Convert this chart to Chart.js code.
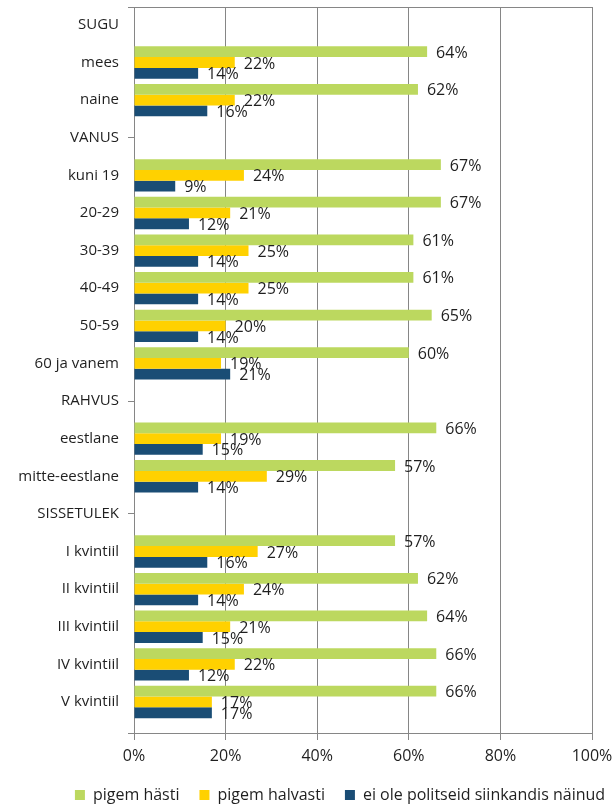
<!DOCTYPE html>
<html>
<head>
<meta charset="utf-8">
<script src="https://cdn.jsdelivr.net/npm/chart.js@4"></script>
<style>
  html, body { margin: 0; padding: 0; background: #fff; }
  #wrap { width: 612px; height: 805px; }
</style>
</head>
<body>
<div id="wrap"><canvas id="chart1"></canvas></div>
<script>
const categories = ['SUGU', 'mees', 'naine', 'VANUS', 'kuni 19', '20-29', '30-39', '40-49', '50-59', '60 ja vanem',
  'RAHVUS', 'eestlane', 'mitte-eestlane', 'SISSETULEK', 'I kvintiil', 'II kvintiil', 'III kvintiil', 'IV kvintiil', 'V kvintiil'];
const headers = ['VANUS', 'RAHVUS', 'SISSETULEK'];

const hasti = [null, 64, 62, null, 67, 67, 61, 61, 65, 60, null, 66, 57, null, 57, 62, 64, 66, 66];
const halvasti = [null, 22, 22, null, 24, 21, 25, 25, 20, 19, null, 19, 29, null, 27, 24, 21, 22, 17];
const pole = [null, 14, 16, null, 9, 12, 14, 14, 14, 21, null, 15, 14, null, 16, 14, 15, 12, 17];

const xTicks = [0, 20, 40, 60, 80, 100];

const textColor = '#1f1f1f';
const lineColor = '#868686';
const font = { family: 'Open Sans', size: 15 };
const bigFont = { family: 'Open Sans', size: 16 };

// kategooriad ei täida telge lõpuni: all jääb tühi riba
const yStart = -0.475;
const yRange = 19.3;

// silte ribade otsas + raami joon üleval
const valueLabels = {
  id: 'valueLabels',
  afterLayout(chart) {
    const s = chart.scales.y;
    s._startValue = yStart;
    s._valueRange = yRange;
    chart.legend.left += 44;
    chart.legend.right += 44;
  },
  beforeDatasetsDraw(chart) {
    const a = chart.chartArea;
    const ctx = chart.ctx;
    ctx.save();
    ctx.strokeStyle = lineColor;
    ctx.lineWidth = 1;
    ctx.beginPath();
    ctx.moveTo(a.left - 6, Math.round(a.top) + 0.5);
    ctx.lineTo(a.right, Math.round(a.top) + 0.5);
    ctx.moveTo(a.left - 6, Math.round(a.bottom) + 0.5);
    ctx.lineTo(a.left, Math.round(a.bottom) + 0.5);
    ctx.stroke();
    ctx.restore();
  },
  afterDatasetsDraw(chart) {
    const ctx = chart.ctx;
    ctx.save();
    ctx.font = '16px "Open Sans"';
    ctx.fillStyle = textColor;
    ctx.textAlign = 'left';
    ctx.textBaseline = 'middle';
    chart.data.datasets.forEach((ds, i) => {
      chart.getDatasetMeta(i).data.forEach((el, j) => {
        const v = ds.data[j];
        if (v === null) return;
        ctx.fillText(v + '%', el.x + 9, el.y + 1.5);
      });
    });
    ctx.restore();
  }
};

const legendFix = {
  id: 'legendFix',
  beforeInit(chart) {
    const fit = chart.legend.fit;
    chart.legend.fit = function () {
      fit.call(this);
      this.height = 38;
    };
  }
};

const chart1 = document.getElementById('chart1');

new Chart(chart1, {
  type: 'bar',
  data: {
    labels: categories,
    datasets: [
      { label: 'pigem hästi', data: hasti, backgroundColor: '#bcd85f' },
      { label: 'pigem halvasti', data: halvasti, backgroundColor: '#ffd100' },
      { label: 'ei ole politseid siinkandis näinud', data: pole, backgroundColor: '#1a4d75' }
    ]
  },
  options: {
    indexAxis: 'y',
    responsive: true,
    maintainAspectRatio: false,
    animation: false,
    barPercentage: 1,
    categoryPercentage: 0.86,
    layout: { padding: { top: 7, right: 20, left: 0, bottom: 0 } },
    scales: {
      x: {
        min: 0,
        max: 100,
        afterBuildTicks: (s) => { s.ticks = xTicks.map(v => ({ value: v })); },
        afterFit: (s) => { s.height = 34; s.paddingLeft = 0; s.paddingRight = 0; },
        ticks: { color: textColor, font: bigFont, padding: 7, callback: (v) => v + '%' },
        grid: { color: lineColor, tickLength: 7 },
        border: { color: lineColor }
      },
      y: {
        afterFit: (s) => { s.width = 134; s.paddingTop = 0; s.paddingBottom = 0; },
        ticks: { color: textColor, font: font, padding: 9 },
        grid: {
          offset: false,
          drawOnChartArea: false,
          tickLength: 6,
          color: (c) => headers.includes(categories[c.index]) ? lineColor : 'rgba(0,0,0,0)'
        },
        border: { color: lineColor }
      }
    },
    plugins: {
      legend: {
        position: 'bottom',
        labels: { color: textColor, font: bigFont, boxWidth: 10, boxHeight: 10, padding: 20 }
      },
      tooltip: { enabled: false }
    }
  },
  plugins: [valueLabels, legendFix]
});
</script>
</body>
</html>
